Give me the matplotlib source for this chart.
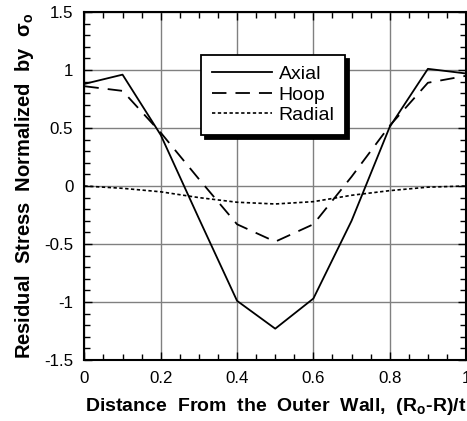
import matplotlib
matplotlib.use("Agg")
import matplotlib.pyplot as plt
from matplotlib.ticker import MultipleLocator

plt.rcParams['font.family'] = ['Liberation Sans', 'DejaVu Sans']

# distance from the outer wall, (Ro-R)/t
dist = [0.0, 0.1, 0.2, 0.3, 0.4, 0.5, 0.6, 0.7, 0.8, 0.9, 1.0]
axial = [0.88, 0.96, 0.44, -0.28, -0.99, -1.23, -0.97, -0.30, 0.51, 1.01, 0.97]
hoop = [0.86, 0.82, 0.46, 0.06, -0.33, -0.48, -0.33, 0.08, 0.52, 0.89, 0.95]
radial = [0.0, -0.02, -0.05, -0.10, -0.14, -0.155, -0.135, -0.08, -0.04, -0.01, 0.0]

fig = plt.figure(figsize=(4.67, 4.21), dpi=100)
ax = fig.add_axes([0.1807, 0.1449, 0.8173, 0.8266])

ax.plot(dist, axial, color='black', lw=1.3, label='Axial')
ax.plot(dist, hoop, color='black', lw=1.3, dashes=(8, 5), label='Hoop')
ax.plot(dist, radial, color='black', lw=1.2, dashes=(2, 1.5), label='Radial')

ax.set_xlim(0, 1)
ax.set_ylim(-1.5, 1.5)
ax.set_xticks([0, 0.2, 0.4, 0.6, 0.8, 1.0])
ax.set_xticklabels(['0', '0.2', '0.4', '0.6', '0.8', '1'])
ax.set_yticks([-1.5, -1, -0.5, 0, 0.5, 1, 1.5])
ax.set_yticklabels(['-1.5', '-1', '-0.5', '0', '0.5', '1', '1.5'])
ax.xaxis.set_minor_locator(MultipleLocator(0.05))
ax.yaxis.set_minor_locator(MultipleLocator(0.1))
ax.grid(True, which='major', color='#808080', lw=1)
ax.tick_params(which='both', direction='in', top=True, right=True,
               labelsize=12.2, width=1, color='black')
ax.tick_params(which='major', length=6, pad=8)
ax.tick_params(which='minor', length=4.5)
for s in ax.spines.values():
    s.set_linewidth(1.5)

ax.set_xlabel('Distance  From  the  Outer  Wall,  (R$_\\mathregular{o}$-R)/t',
              fontsize=14, fontweight='bold', labelpad=7)
ax.set_ylabel('Residual  Stress  Normalized  by  σ$_\\mathregular{o}$',
              fontsize=14.5, fontweight='bold', labelpad=6)

leg = ax.legend(loc='upper left', bbox_to_anchor=(0.28, 0.905), fontsize=14,
                handlelength=3.1, handletextpad=0.35, borderpad=0.55,
                labelspacing=0.15, fancybox=False, framealpha=1,
                edgecolor='black',
                shadow={'color': 'black', 'alpha': 1, 'ox': 3, 'oy': -3})
leg.get_frame().set_linewidth(1.3)

fig.savefig('out.png', dpi=100)
